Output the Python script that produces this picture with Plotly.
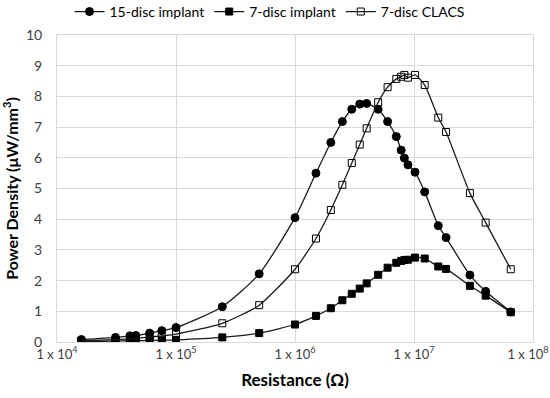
import plotly.graph_objects as go

resistance = [1.6e4, 3.1e4, 4.1e4, 4.6e4, 6.0e4, 7.6e4, 1.0e5, 2.45e5, 5.0e5,
              1.0e6, 1.5e6, 2.0e6, 2.5e6, 3.0e6, 3.5e6, 4.0e6, 5.0e6, 6.0e6,
              7.1e6, 7.8e6, 8.3e6, 8.9e6, 1.02e7, 1.23e7, 1.6e7, 1.86e7,
              2.95e7, 4.0e7, 6.5e7]

disc15_implant = [0.08, 0.15, 0.20, 0.21, 0.29, 0.37, 0.47, 1.15, 2.22,
                  4.05, 5.50, 6.50, 7.18, 7.58, 7.75, 7.77, 7.58, 7.18,
                  6.69, 6.25, 5.99, 5.77, 5.53, 4.89, 3.79, 3.40,
                  2.18, 1.65, 0.98]

disc7_implant = [0.01, 0.03, 0.04, 0.04, 0.05, 0.06, 0.07, 0.15, 0.29,
                 0.57, 0.85, 1.10, 1.36, 1.57, 1.74, 1.91, 2.19, 2.42,
                 2.58, 2.64, 2.67, 2.68, 2.75, 2.72, 2.46, 2.38,
                 1.83, 1.51, 0.97]

disc7_clacs = [0.04, 0.08, 0.10, 0.12, 0.16, 0.20, 0.26, 0.61, 1.20,
               2.37, 3.37, 4.30, 5.12, 5.83, 6.43, 6.96, 7.81, 8.30,
               8.57, 8.64, 8.70, 8.61, 8.70, 8.37, 7.31, 6.84,
               4.85, 3.89, 2.37]

tick_vals = [1e4, 1e5, 1e6, 1e7, 1e8]
tick_text = ["1 x 10<sup>4</sup>", "1 x 10<sup>5</sup>", "1 x 10<sup>6</sup>",
             "1 x 10<sup>7</sup>", "1 x 10<sup>8</sup>&nbsp;&nbsp;&nbsp;"]

FONT = "Lato, 'Open Sans', sans-serif"
fig = go.Figure()

series = [
    ("15-disc implant", disc15_implant, "circle", 8),
    ("7-disc implant", disc7_implant, "square", 7),
    ("7-disc CLACS", disc7_clacs, "square-open", 7),
]
for name, vals, sym, sz in series:
    fig.add_trace(go.Scatter(
        x=resistance, y=vals, name=name, mode="lines+markers",
        line=dict(color="#1a1a1a", width=1.3, shape="spline", smoothing=0.6),
        marker=dict(symbol=sym, size=sz, color="#000000",
                    line=dict(color="#000000", width=1)),
    ))

fig.update_layout(
    width=550, height=398,
    margin=dict(l=57, r=17, t=35, b=56, autoexpand=False),
    paper_bgcolor="white", plot_bgcolor="white",
    font=dict(family=FONT, size=13, color="#404040"),
    showlegend=True,
    legend=dict(orientation="h", x=0.49, xanchor="center", y=0.97, yanchor="middle",
                yref="container", xref="container",
                font=dict(size=14, color="#000000"),
                itemwidth=30, traceorder="normal"),
    xaxis=dict(type="log", range=[4, 8], tickvals=tick_vals, ticktext=tick_text,
               automargin=False, ticklabeloverflow="allow",
               showgrid=True, gridcolor="#d9d9d9", gridwidth=1,
               showline=True, linecolor="#d9d9d9", mirror=True,
               zeroline=False, ticks="", tickfont=dict(size=13, color="#404040"),
               title=dict(text="<b>Resistance (Ω)</b>", font=dict(size=17, color="#000000"),
                          standoff=13)),
    yaxis=dict(range=[0, 10], dtick=1, automargin=False,
               showgrid=True, gridcolor="#d9d9d9", gridwidth=1,
               showline=True, linecolor="#d9d9d9", mirror=True, zeroline=False,
               ticks="", ticklabelstandoff=11, tickfont=dict(size=14, color="#404040"),
               title=dict(text="<b>Power Density (μW/mm<sup>3</sup>)</b>",
                          font=dict(size=16, color="#000000"), standoff=4)),
)

fig.write_html("out.html", config={"displayModeBar": False},
               post_script="document.body.style.margin='0px';")
